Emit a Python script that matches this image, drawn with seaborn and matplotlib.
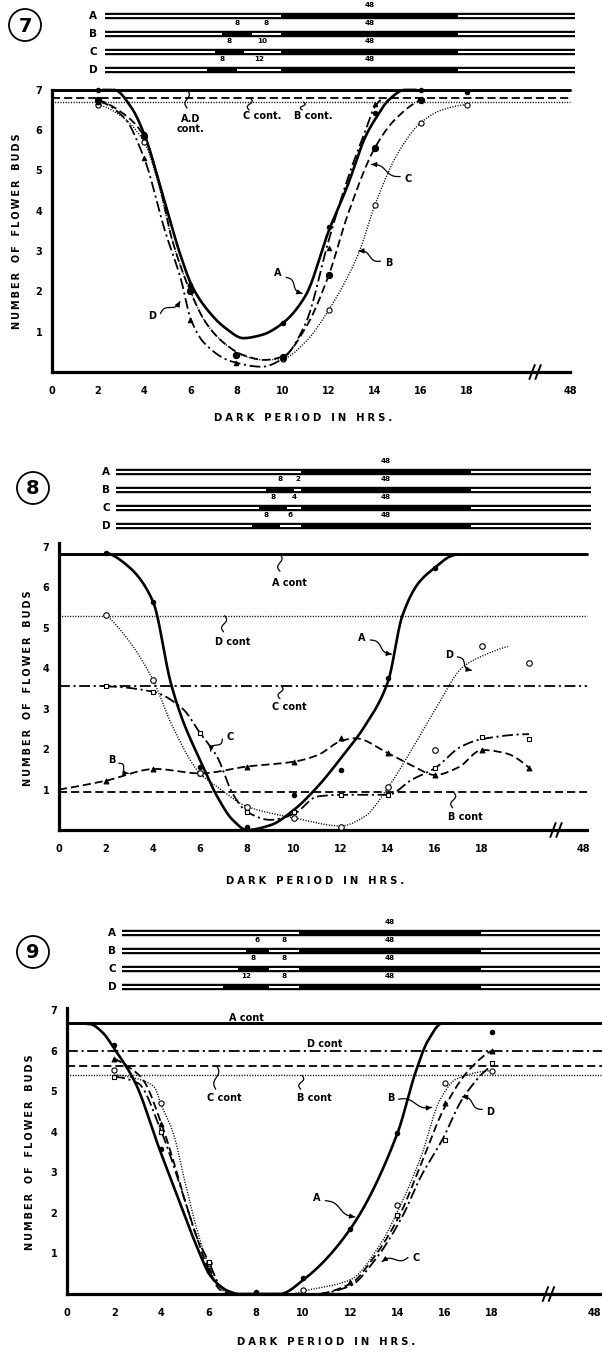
import numpy as np
import pandas as pd
import matplotlib
matplotlib.use("Agg")
import matplotlib.pyplot as plt
from matplotlib.patches import Circle
import seaborn as sns

sns.set_style("white")
plt.rcParams["font.family"] = ["DejaVu Sans"]
plt.rcParams["font.weight"] = "bold"
for k in ["text.color", "axes.labelcolor", "xtick.color", "ytick.color", "axes.edgecolor"]:
    plt.rcParams[k] = "black"

# ============================ DATA ============================
x_ticks = [0, 2, 4, 6, 8, 10, 12, 14, 16, 18]
x_tick_labels = ["0", "2", "4", "6", "8", "10", "12", "14", "16", "18"]
label_48 = "48"
y_ticks = [1, 2, 3, 4, 5, 6, 7]
y_tick_labels = ["1", "2", "3", "4", "5", "6", "7"]
x_title = "DARK PERIOD IN HRS."
y_title = "NUMBER OF FLOWER BUDS"

rows = ["A", "B", "C", "D"]
main_dark = 48
# light/dark schedules above each figure (hours)
f7_pre_dark = [0, 8, 8, 8]
f7_pre_light = [0, 8, 10, 12]
f8_pre_dark = [0, 8, 8, 8]
f8_pre_light = [0, 2, 4, 6]
f9_pre_dark = [0, 6, 8, 12]
f9_pre_light = [0, 8, 8, 8]

# ---------------- Figure 7 ----------------
f7_cont = {"A,D": 7.0, "C": 6.8, "B": 6.7}
f7_A_x = [2, 4, 6, 10, 12, 14, 16, 18]
f7_A_y = [7.0, 5.9, 2.15, 1.22, 3.6, 6.42, 7.0, 6.95]
f7_A_cx = [2.2, 2.7, 3.4, 4.0, 4.75, 5.6, 6.1, 6.8, 7.5, 8.3, 9.1, 10.0, 11.0, 12.0, 12.8, 13.6, 14.1, 14.6, 15.3, 15.8]
f7_A_cy = [7.0, 7.0, 6.6, 5.9, 4.5, 2.85, 2.1, 1.5, 1.1, 0.84, 0.92, 1.21, 1.9, 3.5, 4.6, 5.85, 6.35, 6.75, 7.0, 7.0]
f7_B_x = [2, 4, 6, 8, 10, 12, 14, 16, 18]
f7_B_y = [6.63, 5.7, 2.0, 0.42, 0.33, 1.54, 4.14, 6.19, 6.63]
f7_B_cx = [2.0, 3.0, 4.0, 4.6, 5.2, 6.0, 6.7, 7.5, 8.3, 9.2, 10.0, 11.0, 12.0, 13.3, 14.0, 15.0, 16.0, 16.9, 18.0]
f7_B_cy = [6.63, 6.35, 5.7, 4.7, 3.3, 2.0, 1.2, 0.7, 0.4, 0.3, 0.33, 0.75, 1.54, 2.95, 4.14, 5.43, 6.19, 6.5, 6.63]
f7_C_x = [2, 4, 6, 8, 10, 12, 14, 16]
f7_C_y = [6.75, 5.85, 2.0, 0.42, 0.38, 2.4, 5.56, 6.75]
f7_C_cx = [2.0, 3.0, 4.0, 4.6, 5.2, 6.0, 6.7, 7.5, 8.3, 9.2, 10.0, 11.0, 12.0, 12.8, 14.0, 14.85, 16.0]
f7_C_cy = [6.75, 6.45, 5.85, 4.8, 3.3, 2.0, 1.2, 0.7, 0.42, 0.3, 0.38, 1.1, 2.4, 3.86, 5.56, 6.25, 6.75]
f7_D_x = [2, 4, 6, 8, 10, 12, 14]
f7_D_y = [6.7, 5.3, 1.3, 0.22, 0.35, 3.07, 6.65]
f7_D_cx = [2.0, 3.1, 4.0, 4.9, 5.6, 6.0, 6.6, 7.8, 9.1, 10.0, 11.0, 12.0, 12.8, 13.6, 14.0, 14.4]
f7_D_cy = [6.7, 6.33, 5.3, 3.5, 2.28, 1.34, 0.72, 0.26, 0.13, 0.33, 1.21, 3.27, 4.76, 6.0, 6.58, 6.8]

# ---------------- Figure 8 ----------------
f8_cont = {"A": 6.82, "D": 5.3, "C": 3.57, "B": 0.95}
f8_A_x = [2, 4, 6, 8, 10, 12, 14, 16]
f8_A_y = [6.86, 5.65, 1.57, 0.07, 0.87, 1.48, 3.76, 6.49]
f8_A_cx = [2.0, 2.95, 4.0, 4.76, 5.26, 6.0, 6.73, 7.39, 8.0, 9.0, 10.0, 11.0, 12.0, 13.0, 14.0, 14.6, 15.3, 16.0, 16.7, 17.0]
f8_A_cy = [6.86, 6.52, 5.65, 3.63, 2.72, 1.73, 0.83, 0.25, 0.0, 0.12, 0.5, 1.07, 1.78, 2.56, 3.67, 5.28, 6.11, 6.49, 6.78, 6.82]
f8_B_x = [2, 4, 6, 8, 10, 12, 14, 16, 18, 20]
f8_B_y = [1.22, 1.51, 1.4, 1.57, 1.69, 2.27, 1.9, 1.36, 1.98, 1.54]
f8_B_cx = [0.0, 2.0, 4.1, 6.0, 8.0, 10.0, 11.0, 12.0, 12.6, 14.0, 15.0, 16.0, 17.0, 18.0, 19.0, 20.0]
f8_B_cy = [1.0, 1.22, 1.51, 1.4, 1.57, 1.69, 1.85, 2.2, 2.27, 1.9, 1.6, 1.36, 1.55, 1.98, 1.9, 1.54]
f8_C_x = [2, 4, 6, 8, 10, 12, 14, 16, 18, 20]
f8_C_y = [3.55, 3.42, 2.4, 0.45, 0.45, 0.87, 0.87, 1.53, 2.31, 2.25]
f8_C_cx = [2.0, 4.0, 5.26, 6.0, 6.73, 7.39, 8.0, 9.0, 10.0, 11.0, 12.0, 14.0, 15.0, 16.0, 17.1, 18.0, 20.0]
f8_C_cy = [3.55, 3.42, 3.0, 2.4, 1.81, 0.9, 0.45, 0.25, 0.4, 0.83, 0.87, 0.87, 1.24, 1.53, 2.06, 2.25, 2.37]
f8_D_x = [2, 4, 6, 8, 10, 12, 14, 16, 18, 20]
f8_D_y = [5.32, 3.71, 1.4, 0.58, 0.3, 0.08, 1.07, 1.98, 4.54, 4.13]
f8_D_cx = [2.0, 2.95, 4.0, 4.8, 6.0, 6.73, 8.0, 10.0, 12.0, 13.0, 14.0, 15.0, 16.0, 17.2, 18.0, 19.1]
f8_D_cy = [5.32, 4.7, 3.71, 2.6, 1.4, 1.07, 0.58, 0.3, 0.1, 0.33, 1.05, 1.98, 2.97, 4.04, 4.3, 4.54]

# ---------------- Figure 9 ----------------
f9_cont = {"A": 6.67, "D": 5.99, "C": 5.62, "B": 5.39}
f9_A_x = [2, 4, 8, 10, 12, 14, 18]
f9_A_y = [6.13, 3.58, 0.04, 0.39, 1.6, 3.96, 6.46]
f9_A_cx = [0.5, 1.0, 1.5, 2.0, 2.9, 3.9, 4.85, 5.5, 6.1, 6.8, 7.3, 9.0, 10.1, 12.0, 14.0, 14.8, 15.3, 15.9, 16.4]
f9_A_cy = [6.67, 6.65, 6.45, 6.05, 5.2, 3.6, 2.15, 1.17, 0.43, 0.08, 0.0, 0.0, 0.39, 1.6, 3.96, 5.52, 6.25, 6.67, 6.67]
f9_B_x = [2, 4, 6, 10, 14, 16, 18]
f9_B_y = [5.52, 4.7, 0.76, 0.1, 2.2, 5.2, 5.5]
f9_B_cx = [2.0, 3.0, 3.7, 4.0, 4.5, 5.0, 5.5, 6.0, 6.5, 7.0, 9.5, 10.0, 12.0, 13.3, 14.1, 15.0, 15.8, 16.5, 18.0]
f9_B_cy = [5.4, 5.3, 5.1, 4.65, 3.97, 2.76, 1.6, 0.7, 0.13, 0.0, 0.0, 0.07, 0.35, 1.25, 2.15, 3.38, 4.78, 5.3, 5.5]
f9_C_x = [2, 4, 6, 12, 14, 16, 18]
f9_C_y = [5.8, 4.2, 0.6, 0.3, 1.95, 4.7, 6.0]
f9_C_cx = [2.0, 2.6, 3.2, 4.0, 4.5, 5.0, 5.5, 6.0, 6.5, 7.0, 10.5, 12.0, 13.0, 14.1, 15.0, 16.0, 17.0, 18.0]
f9_C_cy = [5.8, 5.6, 5.3, 4.2, 3.3, 2.3, 1.4, 0.6, 0.1, 0.0, 0.0, 0.25, 0.9, 1.95, 3.2, 4.6, 5.5, 6.0]
f9_D_x = [2, 4, 6, 14, 16, 18]
f9_D_y = [5.35, 4.0, 0.8, 1.95, 3.8, 5.7]
f9_D_cx = [2.0, 3.0, 4.0, 5.0, 5.5, 6.0, 6.5, 7.2, 10.5, 12.0, 13.0, 14.2, 15.0, 15.9, 16.8, 18.0]
f9_D_cy = [5.35, 5.2, 4.0, 2.3, 1.4, 0.8, 0.2, 0.0, 0.0, 0.2, 0.8, 1.9, 2.9, 3.8, 4.85, 5.62]

# ============================ HELPERS ============================
W, H = 602, 1353
fig = plt.figure(figsize=(W / 100, H / 100), dpi=100)


def box(l, t, r, b):
    return [l / W, 1 - b / H, (r - l) / W, (b - t) / H]


ov = fig.add_axes([0, 0, 1, 1])
ov.set_xlim(0, W)
ov.set_ylim(H, 0)
ov.axis("off")
ov.set_zorder(20)


def spaced(s, gap="\u2009"):
    words = s.split(" ")
    return "\u2003".join(gap.join(w) for w in words)


def pchip(x, y, n=400):
    x = np.asarray(x, float)
    y = np.asarray(y, float)
    h = np.diff(x)
    d = np.diff(y) / h
    m = np.zeros_like(y)
    for k in range(1, len(x) - 1):
        if d[k - 1] * d[k] > 0:
            w1 = 2 * h[k] + h[k - 1]
            w2 = h[k] + 2 * h[k - 1]
            m[k] = (w1 + w2) / (w1 / d[k - 1] + w2 / d[k])

    def end(h0, h1, d0, d1):
        mm = ((2 * h0 + h1) * d0 - h0 * d1) / (h0 + h1)
        if np.sign(mm) != np.sign(d0):
            mm = 0.0
        elif np.sign(d0) != np.sign(d1) and abs(mm) > abs(3 * d0):
            mm = 3 * d0
        return mm

    m[0] = end(h[0], h[1], d[0], d[1])
    m[-1] = end(h[-1], h[-2], d[-1], d[-2])
    xs = np.linspace(x[0], x[-1], n)
    i = np.clip(np.searchsorted(x, xs, side="right") - 1, 0, len(h) - 1)
    t = (xs - x[i]) / h[i]
    ys = ((2 * t**3 - 3 * t**2 + 1) * y[i] + (t**3 - 2 * t**2 + t) * h[i] * m[i]
          + (-2 * t**3 + 3 * t**2) * y[i + 1] + (t**3 - t**2) * h[i] * m[i + 1])
    return xs, ys


STY = {
    "solid": dict(linestyle="-", lw=1.9),
    "dashed": dict(linestyle=(0, (4.5, 2.2)), lw=1.3),
    "dotted": dict(linestyle=(0, (0.8, 1.1)), lw=1.0),
    "dashdot": dict(linestyle=(0, (6, 2, 1.2, 2)), lw=1.3),
}


def curve(ax, cx, cy, style):
    xs, ys = pchip(cx, cy)
    df = pd.DataFrame({"x": xs, "y": ys})
    sns.lineplot(data=df, x="x", y="y", ax=ax, color="black", sort=False,
                 estimator=None, zorder=4, **STY[style])


def marks(ax, x, y, marker, filled, size=14):
    df = pd.DataFrame({"x": x, "y": y})
    sns.scatterplot(data=df, x="x", y="y", ax=ax, marker=marker, s=size,
                    color="black" if filled else "white", edgecolor="black",
                    linewidth=0.8, zorder=6, clip_on=False)


def hline(ax, y, style, xend):
    df = pd.DataFrame({"x": [0, xend], "y": [y, y]})
    st = dict(STY[style])
    if style == "solid":
        st["lw"] = 2.1
    sns.lineplot(data=df, x="x", y="y", ax=ax, color="black", estimator=None,
                 zorder=3, **st)


def squiggle(ax, p0, p1, arrow=False, amp=2.2):
    T = ax.transData
    a = T.transform(p0)
    b = T.transform(p1)
    v = b - a
    L = np.hypot(*v)
    nrm = np.array([-v[1], v[0]]) / L
    t = np.linspace(0, 1, 40)
    pts = a[None, :] + t[:, None] * v[None, :] + (amp * np.sin(2 * np.pi * t))[:, None] * nrm[None, :]
    dat = T.inverted().transform(pts)
    ax.plot(dat[:, 0], dat[:, 1], color="black", lw=0.9, clip_on=False, zorder=7)
    if arrow:
        ax.annotate("", xy=tuple(dat[-1]), xytext=tuple(dat[-6]),
                    arrowprops=dict(arrowstyle="-|>", color="black", lw=0.9,
                                    mutation_scale=7, shrinkA=0, shrinkB=0),
                    zorder=7)


def main_axes(x0, xend, pxhr, y0, pxu, pos48, xbreak, ytop, ylab_x, title_y):
    xr = (xend - x0) / pxhr
    ytop_px = y0 - 7.3 * pxu
    ax = fig.add_axes(box(x0, ytop_px, xend + 6, y0))
    ax.set_xlim(0, (xend + 6 - x0) / pxhr)
    ax.set_ylim(0, 7.3)
    ax.patch.set_alpha(0)
    for s in ["top", "right"]:
        ax.spines[s].set_visible(False)
    ax.spines["left"].set_linewidth(2.3)
    ax.spines["bottom"].set_linewidth(2.3)
    ax.spines["left"].set_bounds(0, ytop)
    ax.spines["bottom"].set_bounds(0, xr)
    ax.spines["left"].set_capstyle("projecting")
    ax.set_xticks(x_ticks + [pos48])
    ax.set_xticklabels(x_tick_labels + [label_48], fontsize=7, fontweight="bold")
    ax.set_yticks(y_ticks)
    ax.set_yticklabels(y_tick_labels, fontsize=7, fontweight="bold")
    ax.tick_params(axis="x", length=0, pad=10, colors="black")
    ax.tick_params(axis="y", length=0, pad=7, colors="black")
    ax.grid(False)
    # axis break marks
    dx = 8 / pxhr
    dy = 7 / pxu
    for off in (-3.0 / pxhr, 3.0 / pxhr):
        ax.plot([xbreak + off - dx / 3, xbreak + off + dx / 3], [-dy, dy],
                color="black", lw=1.4, clip_on=False, zorder=8)
    ov.text(ylab_x, y0 - 3.5 * pxu, spaced(y_title), rotation=90, ha="center",
            va="center", fontsize=7, fontweight="bold")
    ov.text((x0 + xend) / 2 - 8, title_y, spaced(x_title, "\u2009\u200a"),
            ha="center", va="center", fontsize=7.2, fontweight="bold")
    return ax


def finish(ax):
    ax.set_xlabel("")
    ax.set_ylabel("")


def diagram(top_px, L, R, lead, tail, letter_x, circ, num, pre_dark, pre_light):
    sp = 18
    ax = fig.add_axes(box(L, top_px - sp * 0.9, R, top_px + sp * 3.5))
    ax.set_xlim(-lead, main_dark + tail)
    ax.set_ylim(3.5, -0.9)
    ax.axis("off")
    for i, (pdk, plt_) in enumerate(zip(pre_dark, pre_light)):
        ax.plot([-lead, main_dark + tail], [i, i], color="black", lw=4.6,
                solid_capstyle="butt")
        if pdk > 0:
            segs = [(-lead, -(pdk + plt_)), (-plt_, 0), (main_dark, main_dark + tail)]
        else:
            segs = [(-lead, 0), (main_dark, main_dark + tail)]
        for a, b in segs:
            ax.plot([a, b], [i, i], color="white", lw=1.5, solid_capstyle="butt")
        ax.text(main_dark / 2, i - 0.42, "48", ha="center", va="bottom", fontsize=5.2,
                fontweight="bold")
        if pdk > 0:
            ax.text(-(plt_ + pdk / 2), i - 0.42, str(pdk), ha="center", va="bottom",
                    fontsize=5.2, fontweight="bold")
            ax.text(-plt_ / 2, i - 0.42, str(plt_), ha="center", va="bottom",
                    fontsize=5.2, fontweight="bold")
        ov.text(letter_x, top_px + i * sp, rows[i], ha="center", va="center",
                fontsize=7.5, fontweight="bold")
    ov.add_patch(Circle(circ, 16, fill=False, lw=1.3, edgecolor="black"))
    ov.text(circ[0], circ[1] + 1, num, ha="center", va="center", fontsize=14,
            fontweight="bold")


def lab(ax, x, y, s, fs=7):
    ax.text(x, y, s, ha="center", va="center", fontsize=fs, fontweight="bold",
            zorder=9, linespacing=1.0)


# ============================ FIGURE 7 ============================
diagram(16, 105, 575, 47.8, 31.8, 93, (25, 25), "7", f7_pre_dark, f7_pre_light)
ax7 = main_axes(52, 570, 23.06, 372, 40.3, 22.5, 20.95, 7.0, 17, 418)
x7end = (570 - 52) / 23.06
hline(ax7, f7_cont["A,D"], "solid", x7end)
hline(ax7, f7_cont["C"], "dashed", x7end)
hline(ax7, f7_cont["B"], "dotted", x7end)
curve(ax7, f7_A_cx, f7_A_cy, "solid")
curve(ax7, f7_B_cx, f7_B_cy, "dotted")
curve(ax7, f7_C_cx, f7_C_cy, "dashed")
curve(ax7, f7_D_cx, f7_D_cy, "dashdot")
marks(ax7, f7_A_x, f7_A_y, "o", True, 10)
marks(ax7, f7_B_x, f7_B_y, "o", False, 14)
marks(ax7, f7_C_x, f7_C_y, "o", True, 20)
marks(ax7, f7_D_x, f7_D_y, "^", True, 10)
lab(ax7, 6.0, 6.15, "A.D\ncont.")
squiggle(ax7, (5.86, 6.55), (5.86, 7.0))
lab(ax7, 9.1, 6.36, "C cont.")
squiggle(ax7, (8.55, 6.5), (8.6, 6.8))
lab(ax7, 11.35, 6.36, "B cont.")
squiggle(ax7, (10.85, 6.5), (10.9, 6.7))
lab(ax7, 9.8, 2.45, "A")
squiggle(ax7, (10.15, 2.35), (10.85, 1.95), arrow=True)
lab(ax7, 15.45, 4.8, "C")
squiggle(ax7, (15.1, 4.85), (13.85, 5.15), arrow=True)
lab(ax7, 14.6, 2.7, "B")
squiggle(ax7, (14.25, 2.75), (13.3, 3.0), arrow=True)
lab(ax7, 4.35, 1.4, "D")
squiggle(ax7, (4.7, 1.45), (5.55, 1.75), arrow=True)
finish(ax7)

# ============================ FIGURE 8 ============================
diagram(472, 116, 591, 52.3, 33.9, 106, (33, 488), "8", f8_pre_dark, f8_pre_light)
ax8 = main_axes(59, 587, 23.5, 830, 40.43, 22.3, 21.15, 7.1, 28, 881)
x8end = (587 - 59) / 23.5
hline(ax8, f8_cont["A"], "solid", x8end)
hline(ax8, f8_cont["D"], "dotted", x8end)
hline(ax8, f8_cont["C"], "dashdot", x8end)
hline(ax8, f8_cont["B"], "dashed", x8end)
curve(ax8, f8_A_cx, f8_A_cy, "solid")
curve(ax8, f8_B_cx, f8_B_cy, "dashed")
curve(ax8, f8_C_cx, f8_C_cy, "dashdot")
curve(ax8, f8_D_cx, f8_D_cy, "dotted")
marks(ax8, f8_A_x, f8_A_y, "o", True, 10)
marks(ax8, f8_B_x, f8_B_y, "^", True, 12)
marks(ax8, f8_C_x, f8_C_y, "s", False, 12)
marks(ax8, f8_D_x, f8_D_y, "o", False, 16)
lab(ax8, 9.8, 6.1, "A cont")
squiggle(ax8, (9.4, 6.4), (9.4, 6.82))
lab(ax8, 7.4, 4.66, "D cont")
squiggle(ax8, (7.0, 4.9), (7.05, 5.3))
lab(ax8, 9.8, 3.05, "C cont")
squiggle(ax8, (9.4, 3.25), (9.45, 3.57))
lab(ax8, 17.3, 0.33, "B cont")
squiggle(ax8, (16.75, 0.55), (16.8, 0.93))
lab(ax8, 12.9, 4.75, "A")
squiggle(ax8, (13.25, 4.7), (14.15, 4.35), arrow=True)
lab(ax8, 16.6, 4.33, "D")
squiggle(ax8, (16.95, 4.28), (17.55, 3.95), arrow=True)
lab(ax8, 7.3, 2.31, "C")
squiggle(ax8, (6.95, 2.25), (6.45, 1.95), arrow=True)
lab(ax8, 2.25, 1.72, "B")
squiggle(ax8, (2.55, 1.65), (2.95, 1.4), arrow=True)
finish(ax8)

# ============================ FIGURE 9 ============================
diagram(933, 122, 600, 46.7, 31.4, 112, (33, 952), "9", f9_pre_dark, f9_pre_light)
ax9 = main_axes(67, 602, 23.6, 1294, 40.57, 22.35, 20.4, 7.05, 30, 1342)
x9end = (602 - 67) / 23.6
hline(ax9, f9_cont["A"], "solid", x9end)
hline(ax9, f9_cont["D"], "dashdot", x9end)
hline(ax9, f9_cont["C"], "dashed", x9end)
hline(ax9, f9_cont["B"], "dotted", x9end)
curve(ax9, f9_A_cx, f9_A_cy, "solid")
curve(ax9, f9_B_cx, f9_B_cy, "dotted")
curve(ax9, f9_C_cx, f9_C_cy, "dashed")
curve(ax9, f9_D_cx, f9_D_cy, "dashdot")
marks(ax9, f9_A_x, f9_A_y, "o", True, 10)
marks(ax9, f9_B_x, f9_B_y, "o", False, 14)
marks(ax9, f9_C_x, f9_C_y, "^", True, 12)
marks(ax9, f9_D_x, f9_D_y, "s", False, 12)
lab(ax9, 7.6, 6.8, "A cont")
lab(ax9, 10.9, 6.15, "D cont")
lab(ax9, 6.65, 4.82, "C cont")
squiggle(ax9, (6.3, 5.05), (6.35, 5.62))
lab(ax9, 10.5, 4.82, "B cont")
squiggle(ax9, (9.9, 5.05), (9.95, 5.39))
lab(ax9, 13.7, 4.82, "B")
squiggle(ax9, (14.05, 4.8), (15.45, 4.6), arrow=True)
lab(ax9, 17.95, 4.49, "D")
squiggle(ax9, (17.6, 4.55), (16.75, 4.86), arrow=True)
lab(ax9, 10.6, 2.36, "A")
squiggle(ax9, (10.95, 2.3), (12.2, 1.9), arrow=True)
lab(ax9, 14.8, 0.89, "C")
squiggle(ax9, (14.45, 0.9), (13.35, 0.8), arrow=True)
finish(ax9)

fig.savefig("out.png", dpi=100, facecolor="white")
